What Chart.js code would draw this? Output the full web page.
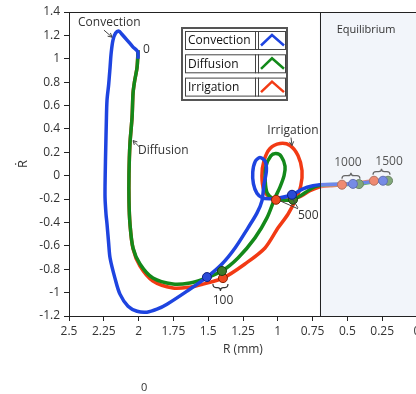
<!DOCTYPE html>
<html><head><meta charset="utf-8">
<script src="https://cdn.jsdelivr.net/npm/chart.js@4.4.1/dist/chart.umd.min.js"></script>
<style>
html,body{margin:0;padding:0;background:#fff;overflow:hidden;}
#wrap{position:absolute;left:0;top:0;width:440px;height:394px;}
</style></head><body>
<div id="wrap"><canvas id="c" width="440" height="394"></canvas></div>
<script>
// ---- data (R in mm, Rdot) ----
const seriesNames = ['Convection','Diffusion','Irrigation'];
const seriesColors = ['#1e44e0','#13891a','#f23a14'];

const convectionR = [2.004,2.006,2.04,2.083,2.12,2.141,2.165,2.184,2.197,2.205,2.215,2.227,2.232,2.236,2.24,2.241,2.234,2.227,2.215,2.205,2.17,2.134,2.076,2.011,1.94,1.868,1.796,1.652,1.509,1.401,1.307,1.214,1.149,1.114,1.1,1.082,1.09,1.128,1.163,1.18,1.175,1.15,1.11,1.056,0.984,0.898,0.819,0.747,0.697,0.553,0.46,0.35,0.244,0.19];
const convectionRdot = [1.00,1.06,1.10,1.16,1.21,1.236,1.22,1.16,1.05,0.927,0.78,0.644,0.45,0.24,0.0,-0.19,-0.33,-0.412,-0.58,-0.704,-0.876,-1.013,-1.116,-1.159,-1.167,-1.142,-1.099,-0.987,-0.867,-0.755,-0.618,-0.446,-0.318,-0.215,-0.08,0.04,0.12,0.155,0.12,0.03,-0.07,-0.15,-0.19,-0.197,-0.189,-0.163,-0.112,-0.086,-0.077,-0.072,-0.07,-0.055,-0.043,-0.04];

const diffusionR = [2.004,2.011,2.03,2.04,2.047,2.062,2.069,2.069,2.062,2.04,1.99,1.897,1.753,1.631,1.537,1.401,1.286,1.164,1.078,1.02,0.985,0.955,0.948,0.975,1.013,1.05,1.085,1.09,1.075,1.03,0.984,0.891,0.805,0.733,0.661,0.55,0.417,0.3,0.208,0.18];
const diffusionRdot = [1.073,0.927,0.80,0.704,0.498,0.275,0.017,-0.215,-0.412,-0.618,-0.755,-0.876,-0.927,-0.918,-0.884,-0.815,-0.704,-0.532,-0.361,-0.189,-0.10,0.0,0.08,0.165,0.189,0.17,0.08,-0.05,-0.15,-0.2,-0.206,-0.206,-0.146,-0.094,-0.077,-0.075,-0.072,-0.05,-0.043,-0.04];

const irrigationR = [2.004,2.011,2.03,2.04,2.047,2.062,2.069,2.069,2.062,2.04,1.99,1.897,1.753,1.631,1.537,1.394,1.236,1.092,0.998,0.927,0.87,0.835,0.826,0.855,0.912,0.984,1.056,1.099,1.114,1.099,1.056,1.013,0.912,0.841,0.769,0.697,0.625,0.539,0.42,0.309,0.26];
const irrigationRdot = [1.073,0.927,0.80,0.704,0.498,0.275,0.017,-0.215,-0.412,-0.625,-0.773,-0.901,-0.961,-0.953,-0.927,-0.876,-0.755,-0.618,-0.446,-0.33,-0.2,-0.086,0.043,0.172,0.258,0.275,0.232,0.129,0.0,-0.129,-0.19,-0.206,-0.206,-0.18,-0.129,-0.094,-0.086,-0.077,-0.06,-0.043,-0.04];

// time markers (t = 100, 500, 1000, 1500)
const markerTimes = [100,500,1000,1500];
const convectionMarkR = [1.509,0.898,0.46,0.244];
const convectionMarkRdot = [-0.867,-0.163,-0.07,-0.043];
const diffusionMarkR = [1.401,0.891,0.417,0.208];
const diffusionMarkRdot = [-0.815,-0.206,-0.072,-0.043];
const irrigationMarkR = [1.394,1.013,0.539,0.309];
const irrigationMarkRdot = [-0.876,-0.206,-0.077,-0.043];

const xTickValues = [2.5,2.25,2,1.75,1.5,1.25,1,0.75,0.5,0.25,0];
const yTickValues = [1.4,1.2,1,0.8,0.6,0.4,0.2,0,-0.2,-0.4,-0.6,-0.8,-1,-1.2];
const equilibriumR = 0.70;
const xTitle = 'R (mm)';
const yTitle = 'Ṙ';

// ---- build ----
const pts = (xs, ys) => xs.map((x, i) => ({x, y: ys[i]}));
const FONT = '"Open Sans", "DejaVu Sans", sans-serif';

function lineDs(i, xs, ys, w, order) {
  return {label: seriesNames[i], data: pts(xs, ys), showLine: true, borderColor: seriesColors[i],
    borderWidth: w, pointRadius: 0, tension: 0.3, fill: false, order};
}
function markDs(name, xs, ys, fill, border) {
  return {label: name, data: pts(xs, ys), showLine: false, pointRadius: 4.5, pointBorderWidth: 1,
    pointBackgroundColor: fill, pointBorderColor: border, order: 0};
}

function drawArrow(ctx, x1, y1, x2, y2) {
  ctx.beginPath(); ctx.moveTo(x1, y1); ctx.lineTo(x2, y2); ctx.stroke();
  const a = Math.atan2(y2 - y1, x2 - x1), s = 4.5;
  ctx.beginPath();
  ctx.moveTo(x2 - s * Math.cos(a - 0.5), y2 - s * Math.sin(a - 0.5));
  ctx.lineTo(x2, y2);
  ctx.lineTo(x2 - s * Math.cos(a + 0.5), y2 - s * Math.sin(a + 0.5));
  ctx.stroke();
}
function drawBrace(ctx, xa, xb, yb, yt) {
  const xm = (xa + xb) / 2, ym = (yb + yt) / 2, q = Math.min(3, (xb - xa) / 4);
  ctx.beginPath();
  ctx.moveTo(xa, yb);
  ctx.quadraticCurveTo(xa, ym, xa + q, ym);
  ctx.lineTo(xm - q, ym);
  ctx.quadraticCurveTo(xm, ym, xm, yt);
  ctx.quadraticCurveTo(xm, ym, xm + q, ym);
  ctx.lineTo(xb - q, ym);
  ctx.quadraticCurveTo(xb, ym, xb, yb);
  ctx.stroke();
}

const decor = {
  id: 'decor',
  beforeDatasetsDraw(chart) {
    const {ctx, chartArea: ca, scales: {x}} = chart;
    const xe = x.getPixelForValue(equilibriumR);
    ctx.save();
    ctx.fillStyle = '#f3f5fa';
    ctx.fillRect(xe, ca.top, ca.right - xe, ca.bottom - ca.top);
    ctx.restore();
  },
  afterDatasetsDraw(chart) {
    const {ctx, chartArea: ca, scales: {x, y}} = chart;
    const P = (r, rd) => [x.getPixelForValue(r), y.getPixelForValue(rd)];
    const xe = x.getPixelForValue(equilibriumR);
    ctx.save();
    // fade in equilibrium zone
    ctx.fillStyle = 'rgba(243,245,250,0.38)';
    ctx.fillRect(xe + 1, ca.top, ca.right - xe - 1, ca.bottom - ca.top);
    // frame & boundary line
    ctx.strokeStyle = '#222'; ctx.lineWidth = 1;
    ctx.beginPath();
    ctx.moveTo(Math.round(xe) + 0.5, ca.top); ctx.lineTo(Math.round(xe) + 0.5, ca.bottom);
    ctx.moveTo(ca.left, Math.round(ca.top) + 0.5); ctx.lineTo(ca.right, Math.round(ca.top) + 0.5);
    ctx.stroke();

    // text annotations
    ctx.fillStyle = '#333'; ctx.font = '12px ' + FONT; ctx.textBaseline = 'middle';
    let p;
    ctx.textAlign = 'left';
    p = P(2.435, 1.313); ctx.fillText('Convection', p[0], p[1]);
    p = P(1.968, 1.082); ctx.fillText('0', p[0], p[1]);
    p = P(2.004, 0.215); ctx.fillText('Diffusion', p[0], p[1]);
    p = P(0.855, -0.343); ctx.fillText('500', p[0], p[1]);
    ctx.textAlign = 'center';
    p = P(0.891, 0.386); ctx.fillText('Irrigation', p[0], p[1]);
    p = P(1.394, -1.064); ctx.fillText('100', p[0], p[1]);
    ctx.fillStyle = '#555';
    p = P(0.496, 0.112); ctx.fillText('1000', p[0], p[1]);
    p = P(0.201, 0.12); ctx.fillText('1500', p[0], p[1]);
    ctx.font = '11px ' + FONT; ctx.fillStyle = '#333';
    p = P(0.366, 1.245); ctx.fillText('Equilibrium', p[0], p[1]);
    ctx.font = '11px ' + FONT;
    p = P(1.961, -1.811); ctx.fillText('0', p[0], p[1]);

    // arrows / leaders
    ctx.strokeStyle = '#444'; ctx.lineWidth = 1;
    let a = P(2.249, 1.245), b = P(2.191, 1.185); drawArrow(ctx, a[0], a[1], b[0], b[1]);
    a = P(1.997, 0.249); b = P(2.04, 0.30); drawArrow(ctx, a[0], a[1], b[0], b[1]);
    a = P(0.905, 0.326); b = P(0.898, 0.258); drawArrow(ctx, a[0], a[1], b[0], b[1]);
    ctx.beginPath();
    a = P(0.984, -0.215); b = P(0.855, -0.283); ctx.moveTo(a[0], a[1]); ctx.lineTo(b[0], b[1]);
    a = P(0.891, -0.206); b = P(0.855, -0.275); ctx.moveTo(a[0], a[1]); ctx.lineTo(b[0], b[1]);
    ctx.stroke();
    // braces
    ctx.lineWidth = 1.2; ctx.strokeStyle = '#333';
    a = P(1.466, -0.927); b = P(1.358, -0.987); drawBrace(ctx, a[0], b[0], a[1], b[1]);
    ctx.strokeStyle = '#666';
    a = P(0.539, -0.026); b = P(0.41, 0.026); drawBrace(ctx, a[0], b[0], a[1], b[1]);
    a = P(0.316, 0.009); b = P(0.194, 0.06); drawBrace(ctx, a[0], b[0], a[1], b[1]);

    // legend (LabVIEW-style)
    const lx = 181, ly = 27;
    ctx.fillStyle = '#fff';
    ctx.fillRect(lx, ly, 107, 74);
    ctx.strokeStyle = '#555'; ctx.lineWidth = 2;
    ctx.strokeRect(lx + 1, ly + 1, 105, 72);
    ctx.lineWidth = 1;
    for (let i = 0; i < 3; i++) {
      const y0 = ly + 4.5 + i * 23.3;
      ctx.strokeStyle = '#444';
      ctx.strokeRect(lx + 4.5, y0, 70, 18);
      ctx.strokeRect(lx + 74.5, y0, 3, 18);
      ctx.strokeRect(lx + 77.5, y0, 27, 18);
      ctx.fillStyle = '#111'; ctx.font = '12px ' + FONT; ctx.textAlign = 'left';
      ctx.fillText(seriesNames[i], lx + 7, y0 + 9.5);
      ctx.strokeStyle = seriesColors[i]; ctx.lineWidth = 2.5;
      ctx.beginPath();
      ctx.moveTo(lx + 80, y0 + 14); ctx.lineTo(lx + 91, y0 + 3.5); ctx.lineTo(lx + 103, y0 + 14);
      ctx.stroke();
      ctx.lineWidth = 1;
    }
    ctx.restore();
  }
};

const fmt = v => String(+(+v).toFixed(2));

new Chart(document.getElementById('c'), {
  type: 'scatter',
  data: {
    datasets: [
      markDs('Convection t', convectionMarkR, convectionMarkRdot, '#2a4bd8', '#0d1f80'),
      markDs('Diffusion t', diffusionMarkR, diffusionMarkRdot, '#3d7a2a', '#1b4010'),
      markDs('Irrigation t', irrigationMarkR, irrigationMarkRdot, '#ee4a20', '#8a2000'),
      lineDs(0, convectionR, convectionRdot, 3.5, 1),
      lineDs(1, diffusionR, diffusionRdot, 3.5, 2),
      lineDs(2, irrigationR, irrigationRdot, 3.5, 3)
    ]
  },
  options: {
    responsive: false, animation: false, devicePixelRatio: 1,
    layout: {padding: {left: 0, top: 12, right: 23, bottom: 28}},
    plugins: {legend: {display: false}, tooltip: {enabled: false}},
    scales: {
      x: {
        type: 'linear', min: 0, max: 2.5, reverse: true,
        afterBuildTicks: s => { s.ticks = xTickValues.map(v => ({value: v})); },
        afterFit: s => { s.height = 50; },
        ticks: {color: '#333', padding: 3, font: {family: FONT, size: 12}, callback: fmt, autoSkip: false, maxRotation: 0},
        grid: {drawOnChartArea: false, drawTicks: true, tickLength: 5, color: '#222'},
        border: {display: true, color: '#222', width: 1},
        title: {display: true, text: xTitle, color: '#333', font: {family: FONT, size: 12}, padding: {top: 0, bottom: 9}}
      },
      y: {
        type: 'linear', min: -1.2, max: 1.4,
        afterBuildTicks: s => { s.ticks = yTickValues.map(v => ({value: v})); },
        afterFit: s => { s.width = 69; },
        ticks: {color: '#333', padding: 4, font: {family: FONT, size: 12}, callback: fmt, autoSkip: false},
        grid: {drawOnChartArea: false, drawTicks: true, tickLength: 5, color: '#222'},
        border: {display: true, color: '#222', width: 1},
        title: {display: true, text: yTitle, color: '#333', font: {family: FONT, size: 13}, padding: {top: 15, bottom: 0}}
      }
    }
  },
  plugins: [decor]
});
</script>
</body></html>
